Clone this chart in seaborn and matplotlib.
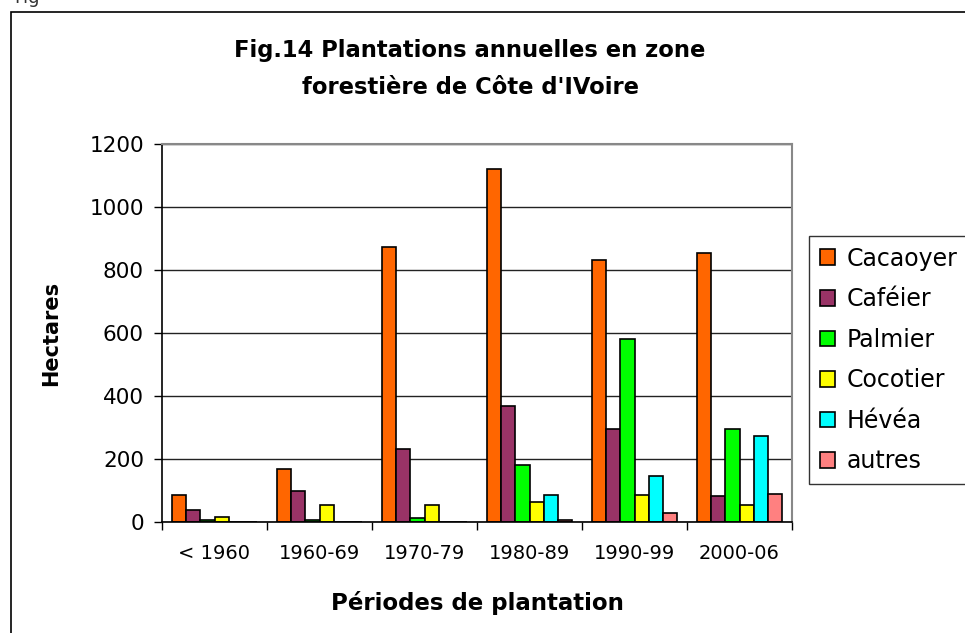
import matplotlib
matplotlib.use("Agg")
import matplotlib.pyplot as plt
import seaborn as sns
import pandas as pd
from matplotlib.patches import Rectangle

# values (hectares)
periods = ['< 1960', '1960-69', '1970-79', '1980-89', '1990-99', '2000-06']
cultures = ['Cacaoyer', 'Caféier', 'Palmier', 'Cocotier', 'Hévéa', 'autres']
cacaoyer = [86, 168, 872, 1120, 831, 853]
cafeier = [39, 99, 233, 367, 295, 81]
palmier = [5, 5, 12, 180, 580, 295]
cocotier = [15, 55, 55, 65, 86, 54]
hevea = [0, 0, 0, 87, 147, 274]
autres = [0, 0, 0, 5, 27, 88]
colors = ['#FF6600', '#993366', '#00FF00', '#FFFF00', '#00FFFF', '#FF8080']
y_ticks = [0, 200, 400, 600, 800, 1000, 1200]

series = [cacaoyer, cafeier, palmier, cocotier, hevea, autres]
rows = []
for name, vals in zip(cultures, series):
    for p, v in zip(periods, vals):
        rows.append({'periode': p, 'culture': name, 'hectares': v})
df = pd.DataFrame(rows)

sns.set_theme(style='white')
plt.rcParams['font.family'] = ['DejaVu Sans']
plt.rcParams.update({'text.color': 'black', 'axes.labelcolor': 'black',
                     'xtick.color': 'black', 'ytick.color': 'black'})

fig = plt.figure(figsize=(9.65, 6.33), dpi=100)
ax = fig.add_axes([162 / 965, 1 - 522 / 633, 630 / 965, 378 / 633])

sns.barplot(data=df, x='periode', y='hectares', hue='culture',
            order=periods, hue_order=cultures, palette=colors,
            width=0.81, edgecolor='black', linewidth=1.2,
            saturation=1, errorbar=None, ax=ax)
ax.get_legend().remove()

ax.set_ylim(0, 1200)
ax.set_xlim(-0.5, len(periods) - 0.5)
ax.set_yticks(y_ticks)
ax.yaxis.grid(True, color='#222222', linewidth=1)
ax.set_axisbelow(True)

# category boundary ticks below the axis, labels centred without marks
ax.set_xticks(range(len(periods)))
ax.set_xticklabels(periods, fontsize=14)
ax.set_xticks([i - 0.5 for i in range(len(periods) + 1)], minor=True)
ax.tick_params(axis='x', which='major', length=0, pad=16)
ax.tick_params(axis='x', which='minor', length=6, width=1, color='black', bottom=True)
ax.tick_params(axis='y', length=6, width=1, color='black', left=True, labelsize=15.5, pad=7)

for side in ['left', 'bottom']:
    ax.spines[side].set_color('black')
    ax.spines[side].set_linewidth(1.2)
for side in ['top', 'right']:
    ax.spines[side].set_color('#888888')
    ax.spines[side].set_linewidth(1.5)

ax.set_xlabel('Périodes de plantation', fontsize=16.5, fontweight='bold', labelpad=20)
ax.set_ylabel('Hectares', fontsize=15, fontweight='bold', labelpad=20)

fig.text(470 / 965, 1 - 50 / 633, "Fig.14 Plantations annuelles en zone",
         ha='center', va='center', fontsize=16.3, fontweight='bold')
fig.text(470 / 965, 1 - 88 / 633, "forestière de Côte d'IVoire",
         ha='center', va='center', fontsize=16.3, fontweight='bold')

handles, labels = ax.get_legend_handles_labels()
leg = fig.legend(handles, labels, loc='upper left',
                 bbox_to_anchor=(809 / 965, 1 - 236 / 633),
                 fontsize=17, frameon=True, fancybox=False,
                 handlelength=0.65, handleheight=0.65, handletextpad=0.5,
                 labelspacing=0.7, borderpad=0.45, borderaxespad=0)
leg.get_frame().set_edgecolor('black')
leg.get_frame().set_linewidth(1)

# outer chart frame, cut off on the right and bottom like the reference
fig.patches.append(Rectangle((11 / 965, -0.05), 1.2, 1 - 12 / 633 + 0.05,
                             transform=fig.transFigure, fill=False,
                             edgecolor='black', linewidth=1.2))
fig.text(14 / 965, 1 + 2 / 633, 'Fig', fontsize=13, color='#333333',
         ha='left', va='center')

fig.savefig('out.png', dpi=100)
